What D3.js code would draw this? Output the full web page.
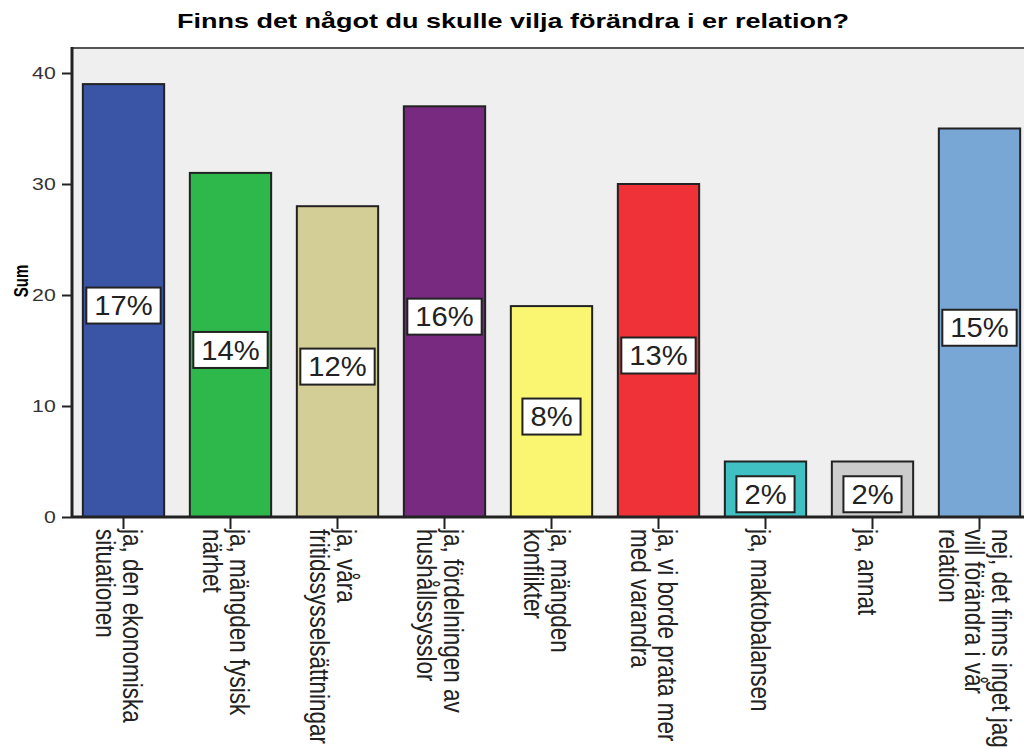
<!DOCTYPE html>
<html>
<head>
<meta charset="utf-8">
<script src="https://cdn.jsdelivr.net/npm/d3@7"></script>
<style>
  body { margin: 0; background: #fff; }
  text { font-family: "Liberation Sans", Arial, sans-serif; }
</style>
</head>
<body>
<div id="chart"></div>
<script>
const categories = [
  ["ja, den ekonomiska", "situationen"],
  ["ja, mängden fysisk", "närhet"],
  ["ja, våra", "fritidssysselsättningar"],
  ["ja, fördelningen av", "hushållssysslor"],
  ["ja, mängden", "konflikter"],
  ["ja, vi borde prata mer", "med varandra"],
  ["ja, maktobalansen"],
  ["ja, annat"],
  ["nej, det finns inget jag", "vill förändra i vår", "relation"]
];
const values = [39, 31, 28, 37, 19, 30, 5, 5, 35];
const percentLabels = ["17%", "14%", "12%", "16%", "8%", "13%", "2%", "2%", "15%"];
const colors = ["#3a55a6", "#2eb84c", "#d3cd96", "#782a80", "#fbf672", "#ee3237", "#40c0c2", "#cccccc", "#78a7d6"];
const yTicks = [0, 10, 20, 30, 40];

const width = 1024;
const height = 749;
const margin = ({top: 48, right: -6, bottom: 232, left: 72});
const stretch = 1.35; // the reference looks stretched sideways

const x = d3.scaleBand()
      .domain(d3.range(categories.length))
      .range([70, 70 + 107 * categories.length])
      .paddingInner(0.24)
      .paddingOuter(0.12);

const y = d3.scaleLinear()
      .domain([0, 40])
      .range([height - margin.bottom, 73]);

const svg = d3.select("#chart").append("svg")
      .attr("width", width)
      .attr("height", height)
      .attr("viewBox", [0, 0, width, height]);

// plot background
svg.append("rect")
    .attr("x", margin.left)
    .attr("y", margin.top)
    .attr("width", width - margin.left + 10)
    .attr("height", height - margin.bottom - margin.top)
    .attr("fill", "#efefef")
    .attr("stroke", "#555")
    .attr("stroke-width", 2);

// title
svg.append("text")
    .attr("transform", `translate(513,28) scale(${stretch},1)`)
    .attr("text-anchor", "middle")
    .attr("font-weight", "bold")
    .attr("font-size", 20)
    .text("Finns det något du skulle vilja förändra i er relation?");

// bars
svg.append("g")
  .selectAll("rect")
  .data(values)
  .join("rect")
    .attr("x", (d, i) => x(i))
    .attr("y", d => y(d))
    .attr("width", x.bandwidth())
    .attr("height", d => y(0) - y(d))
    .attr("fill", (d, i) => colors[i])
    .attr("stroke", "#222")
    .attr("stroke-width", 2);

// percent labels
const lab = svg.append("g")
  .selectAll("g")
  .data(values)
  .join("g")
    .attr("transform", (d, i) => `translate(${x(i) + x.bandwidth() / 2},${y(d / 2) + 5})`);

lab.append("rect")
    .attr("fill", "#fff")
    .attr("stroke", "#222")
    .attr("stroke-width", 2);

lab.append("text")
    .attr("text-anchor", "middle")
    .attr("dy", "0.36em")
    .attr("font-size", 27)
    .attr("transform", "scale(1.08,1)")
    .attr("fill", "#222")
    .text((d, i) => percentLabels[i]);

lab.each(function() {
  const g = d3.select(this);
  const w = g.select("text").node().getComputedTextLength() * 1.08 + 16;
  g.select("rect")
      .attr("x", -w / 2)
      .attr("y", -18)
      .attr("width", w)
      .attr("height", 36);
});

// y axis
const yAxis = g => g
      .attr("transform", `translate(${margin.left},0)`)
      .call(d3.axisLeft(y).tickValues(yTicks).tickSize(10).tickPadding(3))
      .call(g => g.select(".domain").remove())
      .call(g => g.selectAll(".tick line").attr("stroke", "#222").attr("stroke-width", 2))
      .call(g => g.selectAll(".tick text")
            .attr("font-size", 17)
            .attr("fill", "#333")
            .attr("transform", "scale(1.25,1)")
            .attr("font-family", "Liberation Sans, Arial, sans-serif"));

svg.append("g").call(yAxis);

svg.append("line")
    .attr("x1", margin.left).attr("x2", margin.left)
    .attr("y1", margin.top - 1).attr("y2", y(0))
    .attr("stroke", "#222")
    .attr("stroke-width", 3);

// x axis
const xAxis = g => g
      .attr("transform", `translate(0,${y(0)})`)
      .call(d3.axisBottom(x).tickSize(12).tickFormat(""))
      .call(g => g.select(".domain").attr("stroke", "#222").attr("stroke-width", 3)
            .attr("d", `M${margin.left},0H${width + 10}`))
      .call(g => g.selectAll(".tick line").attr("stroke", "#222").attr("stroke-width", 2));

svg.append("g").call(xAxis);

// rotated category labels
const lineStep = 27;
const labStretch = 1.2;
svg.append("g")
  .selectAll("text")
  .data(categories)
  .join("text")
    .attr("transform", (d, i) => `translate(${x(i) + x.bandwidth() / 2},${y(0) + 12}) rotate(90) scale(1,${labStretch})`)
    .attr("font-size", 22.5)
    .attr("fill", "#222")
    .each(function(lines) {
      const t = d3.select(this);
      const n = lines.length;
      lines.forEach((s, j) => {
        const off = 14 - ((n - 1) / 2 - j) * lineStep;
        t.append("tspan")
            .attr("x", 0)
            .attr("y", off / labStretch)
            .text(s);
      });
    });

// y axis title
svg.append("text")
    .attr("transform", "translate(28,281) rotate(-90) scale(1,1.3)")
    .attr("text-anchor", "middle")
    .attr("font-weight", "bold")
    .attr("font-size", 15)
    .text("Sum");
</script>
</body>
</html>
